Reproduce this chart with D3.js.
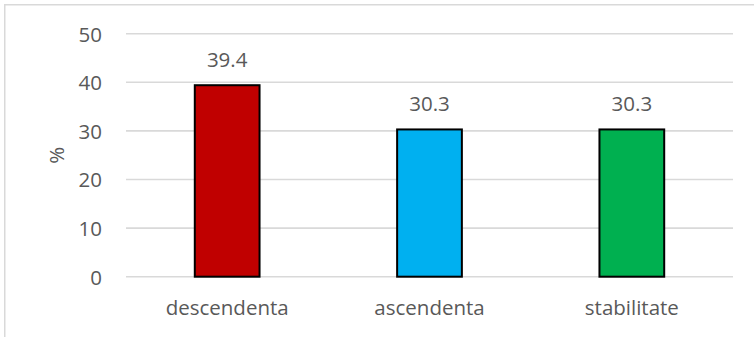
<!DOCTYPE html>
<html>
<head>
<meta charset="utf-8">
<script src="https://cdn.jsdelivr.net/npm/d3@7"></script>
<style>
  html, body { margin: 0; padding: 0; background: #fff; }
  svg { display: block; }
  text { font-family: "Open Sans", sans-serif; fill: #595959; }
</style>
</head>
<body>
<svg id="chart" width="754" height="337"></svg>
<script>
// Trend categories and their shares (%)
const categories = ["descendenta", "ascendenta", "stabilitate"];
const values = [39.4, 30.3, 30.3];
const colors = ["#C00000", "#00B0F0", "#00B050"];
const yTicks = [0, 10, 20, 30, 40, 50];
const yLabel = "%";

const svg = d3.select("#chart");
const plot = { left: 126, right: 733, top: 33.7, bottom: 276.7 };

// Outer chart frame
svg.append("rect")
  .attr("x", 4.75).attr("y", 4.75)
  .attr("width", 800).attr("height", 400)
  .attr("fill", "none")
  .attr("stroke", "#d9d9d9")
  .attr("stroke-width", 1.5);

const x = d3.scaleBand()
  .domain(categories)
  .range([plot.left, plot.right])
  .paddingInner(0.68)
  .paddingOuter(0.34);

const y = d3.scaleLinear()
  .domain([0, 50])
  .range([plot.bottom, plot.top]);

// Horizontal gridlines
svg.append("g")
  .selectAll("line")
  .data(yTicks)
  .join("line")
  .attr("x1", plot.left).attr("x2", plot.right)
  .attr("y1", d => y(d)).attr("y2", d => y(d))
  .attr("stroke", "#d9d9d9")
  .attr("stroke-width", 1.6);

// Y axis tick labels
const yAxis = d3.axisLeft(y).tickValues(yTicks).tickSize(0).tickPadding(0);
const gy = svg.append("g")
  .attr("transform", `translate(${plot.left - 24},0)`)
  .call(yAxis);
gy.select(".domain").remove();
gy.selectAll("text")
  .attr("font-size", 20.5)
  .attr("font-family", "Open Sans, sans-serif")
  .attr("fill", "#595959")
  .attr("dy", "0.36em");

// Y axis title
svg.append("text")
  .attr("transform", `translate(64,${(plot.top + plot.bottom) / 2}) rotate(-90)`)
  .attr("text-anchor", "middle")
  .attr("font-size", 20.5)
  .text(yLabel);

// Bars
svg.append("g")
  .selectAll("rect")
  .data(values)
  .join("rect")
  .attr("x", (d, i) => x(categories[i]))
  .attr("y", d => y(d))
  .attr("width", x.bandwidth())
  .attr("height", d => y(0) - y(d))
  .attr("fill", (d, i) => colors[i])
  .attr("stroke", "#000")
  .attr("stroke-width", 2);

// Value labels above bars
svg.append("g")
  .selectAll("text")
  .data(values)
  .join("text")
  .attr("x", (d, i) => x(categories[i]) + x.bandwidth() / 2)
  .attr("y", d => y(d) - 18.5)
  .attr("text-anchor", "middle")
  .attr("font-size", 20.5)
  .text(d => d.toFixed(1));

// Category labels
const xAxis = d3.axisBottom(x).tickSize(0).tickPadding(0);
const gx = svg.append("g")
  .attr("transform", `translate(0,${plot.bottom})`)
  .call(xAxis);
gx.select(".domain").remove();
gx.selectAll("text")
  .attr("font-size", 20.5)
  .attr("font-family", "Open Sans, sans-serif")
  .attr("fill", "#595959")
  .attr("dy", 0)
  .attr("y", 38.3);
</script>
</body>
</html>
